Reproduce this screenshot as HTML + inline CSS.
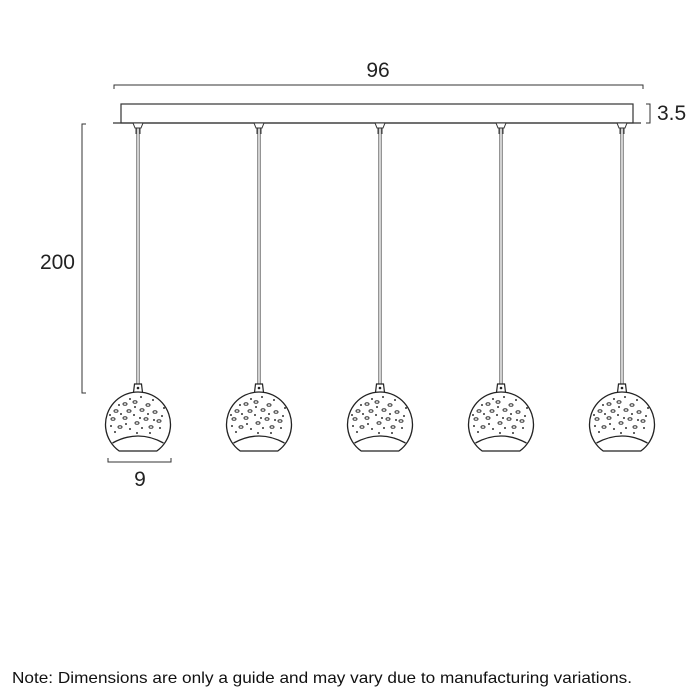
<!DOCTYPE html>
<html><head><meta charset="utf-8"><style>
html,body{margin:0;padding:0;background:#fff;}
svg{display:block;}
</style></head><body>
<svg width="700" height="700" viewBox="0 0 700 700" xmlns="http://www.w3.org/2000/svg">
<defs>
<g id="p">
  <line x1="-1.2" y1="128" x2="-1.2" y2="384" stroke="#666" stroke-width="1"/>
  <line x1="1.2" y1="128" x2="1.2" y2="384" stroke="#666" stroke-width="1"/>
  <path d="M-5 123 L5 123 L3 128 L-3 128 Z" fill="#fff" stroke="#333" stroke-width="1"/>
  <line x1="-2" y1="128" x2="-2" y2="134" stroke="#333"/>
  <line x1="2" y1="128" x2="2" y2="134" stroke="#333"/>
  <path d="M-4.5 392.5 L-3.5 384 L3.5 384 L4.5 392.5" fill="#fff" stroke="#222" stroke-width="1.2"/>
  <circle cx="0" cy="388" r="1.3" fill="#222"/>
  <path d="M-18.8 451 A32.5 32.5 0 1 1 18.8 451 Z" fill="#fff" stroke="#222" stroke-width="1.3"/>
  <path d="M-25.5 443 Q0 429 25.5 443" fill="none" stroke="#222" stroke-width="1.3"/>
  <g fill="none" stroke="#333" stroke-width="1">
    <ellipse cx="-13" cy="404" rx="2" ry="1.3"/><ellipse cx="-3" cy="402" rx="2" ry="1.3"/>
    <ellipse cx="10" cy="405" rx="2" ry="1.3"/><ellipse cx="-22" cy="411" rx="2" ry="1.3"/>
    <ellipse cx="-9" cy="411" rx="2" ry="1.3"/><ellipse cx="4" cy="410" rx="2" ry="1.3"/>
    <ellipse cx="17" cy="412" rx="2" ry="1.3"/><ellipse cx="-25" cy="419" rx="2" ry="1.3"/>
    <ellipse cx="-13" cy="418" rx="2" ry="1.3"/><ellipse cx="8" cy="419" rx="2" ry="1.3"/>
    <ellipse cx="-1" cy="423" rx="2" ry="1.3"/><ellipse cx="21" cy="421" rx="2" ry="1.3"/>
    <ellipse cx="-18" cy="427" rx="2" ry="1.3"/><ellipse cx="13" cy="427" rx="2" ry="1.3"/>
  </g>
  <g fill="#333">
    <circle cx="-8" cy="399" r="1"/><circle cx="3" cy="397" r="1"/><circle cx="15" cy="400" r="1"/>
    <circle cx="-19" cy="405" r="1"/><circle cx="-3" cy="407" r="1"/><circle cx="10" cy="414" r="1"/>
    <circle cx="24" cy="416" r="1"/><circle cx="-17" cy="414" r="1"/><circle cx="-4" cy="415" r="1"/>
    <circle cx="2" cy="418" r="1"/><circle cx="-27" cy="426" r="1"/><circle cx="-8" cy="429" r="1"/>
    <circle cx="4" cy="428" r="1"/><circle cx="22" cy="428" r="1"/><circle cx="-23" cy="432" r="1"/>
    <circle cx="-12" cy="424" r="1"/><circle cx="16" cy="420" r="1"/><circle cx="-1" cy="433" r="1"/>
    <circle cx="12" cy="433" r="1"/><circle cx="-28" cy="415" r="1"/><circle cx="26" cy="408" r="1"/>
  </g>
</g>
</defs>
<path d="M114 89 L114 85 L643 85 L643 89" fill="none" stroke="#333" stroke-width="1"/>
<text x="378" y="77" font-family="Liberation Sans, sans-serif" font-size="21" text-anchor="middle" fill="#222">96</text>
<rect x="121" y="104" width="512" height="19" fill="#fff" stroke="#333" stroke-width="1.2"/>
<line x1="113" y1="123" x2="641" y2="123" stroke="#333" stroke-width="1.2"/>
<path d="M646 104 L650 104 L650 123 L646 123" fill="none" stroke="#333" stroke-width="1"/>
<text x="657" y="120" font-family="Liberation Sans, sans-serif" font-size="21" fill="#222">3.5</text>
<path d="M86 124 L82 124 L82 393 L86 393" fill="none" stroke="#333" stroke-width="1"/>
<text x="75" y="269" font-family="Liberation Sans, sans-serif" font-size="21" text-anchor="end" fill="#222">200</text>
<use href="#p" transform="translate(138,0)"/>
<use href="#p" transform="translate(259,0)"/>
<use href="#p" transform="translate(380,0)"/>
<use href="#p" transform="translate(501,0)"/>
<use href="#p" transform="translate(622,0)"/>
<path d="M108 458 L108 462 L171 462 L171 458" fill="none" stroke="#333" stroke-width="1"/>
<text x="140" y="486" font-family="Liberation Sans, sans-serif" font-size="21" text-anchor="middle" fill="#222">9</text>
<text x="12" y="683" font-family="Liberation Sans, sans-serif" font-size="16" textLength="620" lengthAdjust="spacingAndGlyphs" fill="#111">Note: Dimensions are only a guide and may vary due to manufacturing variations.</text>
</svg>
</body></html>
